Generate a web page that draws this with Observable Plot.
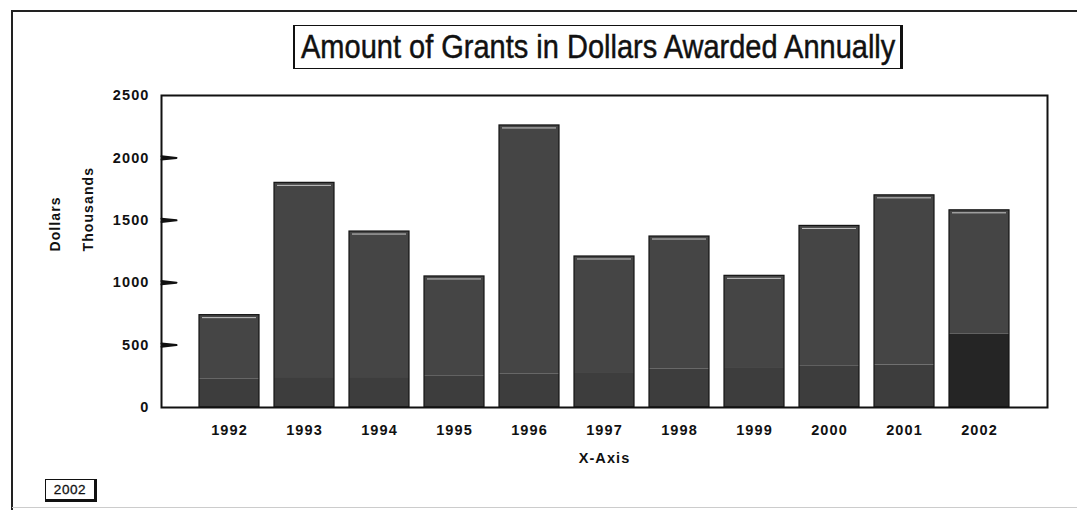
<!DOCTYPE html>
<html>
<head>
<meta charset="utf-8">
<script src="https://cdn.jsdelivr.net/npm/d3@7"></script>
<script src="https://cdn.jsdelivr.net/npm/@observablehq/plot@0.6"></script>
<style>
  html, body { margin: 0; padding: 0; background: #fff; }
  #page { position: relative; width: 1077px; height: 510px; overflow: hidden; font-family: "Liberation Sans", Arial, sans-serif; }
  #chart { position: absolute; left: 0; top: 0; }
  #chart svg text { letter-spacing: 1.1px; }
  .edge { position: absolute; background: #222; }
  #title {
    position: absolute; left: 293px; top: 25px; width: 610px; height: 44px;
    box-sizing: border-box; border: 1.5px solid #111; border-left-width: 2px; border-right-width: 3.5px;
    display: flex; align-items: center; padding-left: 6px;
    font-size: 29px; color: #111; white-space: nowrap;
    -webkit-text-stroke: 0.4px #111;
  }
  #title span { display: inline-block; transform: scaleY(1.15); transform-origin: left center; }
  #tag {
    position: absolute; left: 45px; top: 479px; width: 52px; height: 23px;
    box-sizing: border-box; border: 1.5px solid #111; border-right-width: 3px; border-bottom-width: 3px;
    display: flex; align-items: center; justify-content: center;
    font-size: 13.5px; color: #111; letter-spacing: 0.6px; -webkit-text-stroke: 0.3px #111;
  }
</style>
</head>
<body>
<div id="page">
  <div id="chart"></div>
  <div class="edge" style="left:12px; top:10px; width:1065px; height:1.5px;"></div>
  <div class="edge" style="left:11px; top:10px; width:2px; height:500px;"></div>
  <div class="edge" style="left:12px; top:507px; width:1065px; height:1px; background:#ccc;"></div>
  <div id="title"><span>Amount of Grants in Dollars Awarded Annually</span></div>
  <div id="tag">2002</div>
</div>
<script>
// ---- data (values in thousands of dollars) ----
const years  = ["1992","1993","1994","1995","1996","1997","1998","1999","2000","2001","2002"];
const totals = [740, 1800, 1410, 1050, 2260, 1210, 1370, 1055, 1455, 1700, 1580];
const lower  = [230, 240, 240, 250, 270, 280, 310, 320, 330, 340, 590];
const yTicks = [0, 500, 1000, 1500, 2000, 2500];
const innerTickValues = [500, 1000, 1500, 2000];
const xLabel = "X-Axis";
const yLabel1 = "Dollars";
const yLabel2 = "Thousands";
const highlightYear = "2002";

// ---- derived tables ----
const rows = [];
years.forEach((y, i) => {
  rows.push({year: y, part: "lower", value: lower[i]});
  rows.push({year: y, part: "upper", value: totals[i] - lower[i]});
});
const bars = years.map((y, i) => ({year: y, total: totals[i]}));

const W = 1077, H = 510;
const mL = 161, mR = 30, mT = 95, mB = 103;
const tickLen = 15;

const fillOf = d => d.part === "upper" ? "#454545"
  : (d.year === highlightYear ? "#252525" : "#3d3d3d");

const chart = Plot.plot({
  width: W,
  height: H,
  marginLeft: mL,
  marginRight: mR,
  marginTop: mT,
  marginBottom: mB,
  style: {fontFamily: "'Liberation Sans', Arial, sans-serif", background: "transparent", color: "#111"},
  x: {domain: years, paddingInner: 0.2, paddingOuter: 0.5, label: null},
  y: {domain: [0, 2500], label: null},
  color: {type: "identity"},
  marks: [
    Plot.barY(rows, {x: "year", y: "value", fill: fillOf, order: ["lower", "upper"]}),
    Plot.barY(bars, {x: "year", y: "total", fill: "none", stroke: "#141414", strokeWidth: 1.2}),
    Plot.tickY(bars, {x: "year", y: "total", dy: 2.5, stroke: "#c8c8c8", strokeWidth: 1, insetLeft: 3, insetRight: 3}),
    Plot.frame({stroke: "#111", strokeWidth: 2}),
    // inward-pointing y ticks anchored at the left edge of the frame
    Plot.vector(innerTickValues, {y: d => d, frameAnchor: "left", length: tickLen, r: 1.6, rotate: 90, anchor: "start", stroke: "#111", strokeWidth: 2, fill: "#111", shape: "spike"}),
    Plot.axisY({ticks: yTicks, tickSize: 0, tickPadding: 12, fontSize: 14.5, fontWeight: "bold", tickFormat: d => String(d), label: null}),
    Plot.axisX({tickSize: 0, tickPadding: 17, fontSize: 14.5, fontWeight: "bold", label: null}),
    Plot.text([xLabel], {frameAnchor: "bottom", dy: 55, text: d => d, fontSize: 14.5, fontWeight: "bold"}),
    Plot.text([yLabel1], {frameAnchor: "left", dx: 55 - mL, rotate: -90, text: d => d, fontSize: 14, fontWeight: "bold"}),
    Plot.text([yLabel2], {frameAnchor: "left", dx: 88 - mL, rotate: -90, text: d => d, fontSize: 14, fontWeight: "bold"})
  ]
});

document.getElementById("chart").appendChild(chart);
</script>
</body>
</html>
